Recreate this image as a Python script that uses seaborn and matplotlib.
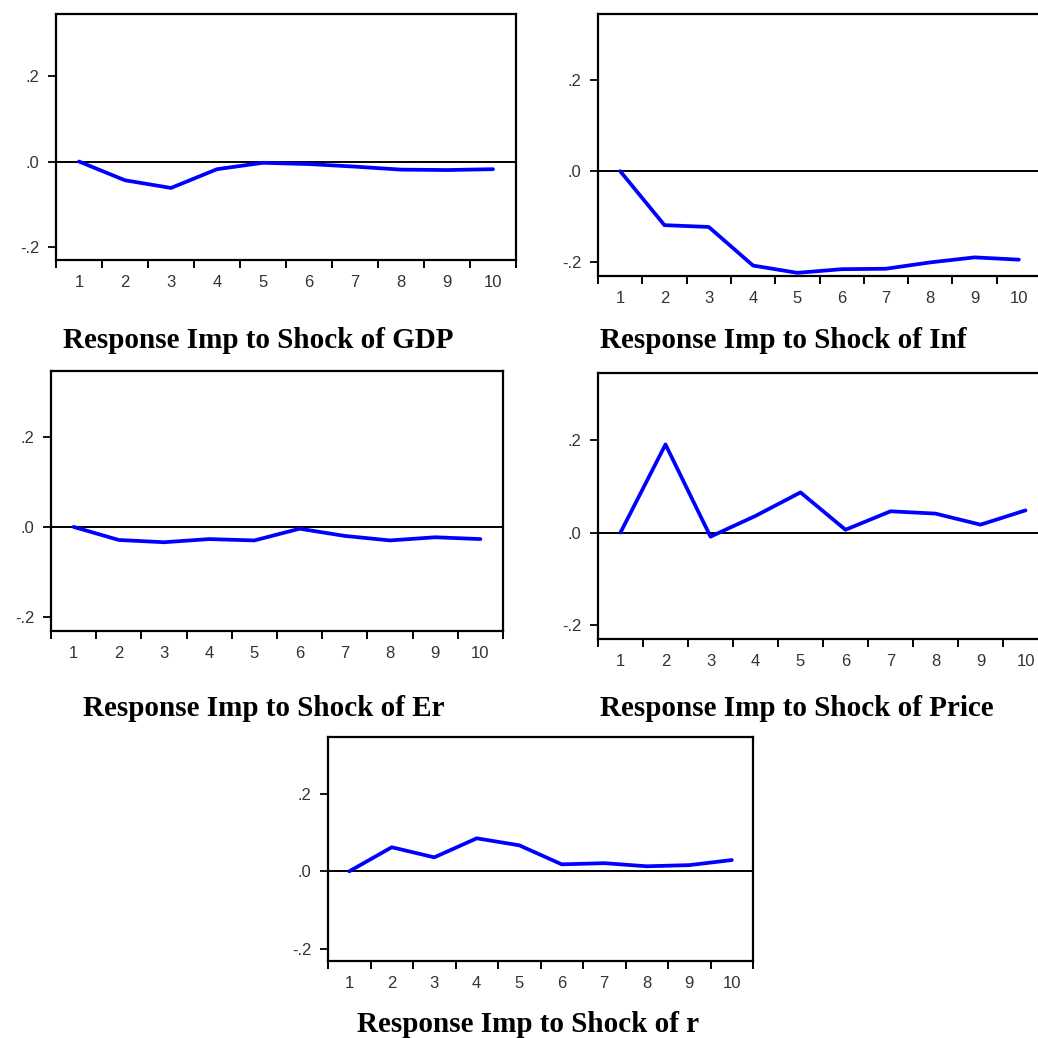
import numpy as np
import pandas as pd
import matplotlib
matplotlib.use("Agg")
import matplotlib.pyplot as plt
import seaborn as sns

sns.set_style("white")
plt.rcParams['font.family'] = ['Liberation Sans', 'DejaVu Sans']

periods = [1, 2, 3, 4, 5, 6, 7, 8, 9, 10]
resp_gdp = [0.0, -0.044, -0.062, -0.018, -0.003, -0.006, -0.012, -0.019, -0.020, -0.018]
resp_inf = [0.0, -0.119, -0.123, -0.208, -0.224, -0.216, -0.215, -0.201, -0.190, -0.195]
resp_er = [0.0, -0.029, -0.034, -0.027, -0.030, -0.004, -0.020, -0.030, -0.023, -0.027]
resp_price = [0.0, 0.191, -0.009, 0.036, 0.087, 0.006, 0.046, 0.041, 0.017, 0.048]
resp_r = [0.0, 0.062, 0.036, 0.085, 0.067, 0.018, 0.021, 0.013, 0.016, 0.029]

titles = ["Response Imp to Shock of GDP", "Response Imp to Shock of Inf",
          "Response Imp to Shock of Er", "Response Imp to Shock of Price",
          "Response Imp to Shock of r"]
series = [resp_gdp, resp_inf, resp_er, resp_price, resp_r]

ytick_vals = [-0.2, 0.0, 0.2]
ytick_labels = ["-.2", ".0", ".2"]

W = 1038.0
# pixel boxes: (left, top, right, bottom)
boxes = [(56, 14, 516, 260), (598, 14, 1041, 276), (51, 371, 503, 631),
         (598, 373, 1048, 639), (328, 737, 753, 961)]
title_pos = [(258, 340), (783, 340), (264, 708), (797, 708), (528, 1025)]

fig = plt.figure(figsize=(10.38, 10.38), dpi=100)

for (l, t, r, b), ys, ttl, (tx, ty) in zip(boxes, series, titles, title_pos):
    ax = fig.add_axes([l / W, 1 - b / W, (r - l) / W, (b - t) / W])
    df = pd.DataFrame({"period": periods, "response": ys})
    ax.axhline(0, color="black", lw=1.4, zorder=1)
    sns.lineplot(data=df, x="period", y="response", ax=ax, color="#0000ff",
                 lw=2.7, zorder=3)
    ax.set_xlim(0.5, 10.5)
    ax.set_ylim(-0.231, 0.346)
    ax.set_xlabel("")
    ax.set_ylabel("")
    ax.set_yticks(ytick_vals)
    ax.set_yticklabels(ytick_labels)
    ax.set_xticks(np.arange(0.5, 11, 1.0))
    ax.set_xticklabels([])
    ax.set_xticks(periods, minor=True)
    ax.set_xticklabels([str(p) for p in periods], minor=True)
    ax.tick_params(axis="x", which="major", direction="out", length=6, width=1.4,
                   color="black", bottom=True)
    ax.tick_params(axis="x", which="minor", length=0, pad=11, labelsize=12,
                   labelcolor="#333333")
    ax.tick_params(axis="y", direction="out", length=6, width=1.3, pad=6,
                   labelsize=12, labelcolor="#333333", left=True, color="black")
    for s in ax.spines.values():
        s.set_color("black")
        s.set_linewidth(1.6)
    fig.text(tx / W, 1 - ty / W, ttl, ha="center", va="center", color="black",
             fontsize=21, fontweight="bold", family=["Liberation Serif", "DejaVu Serif"])

fig.savefig("out.png", dpi=100)
